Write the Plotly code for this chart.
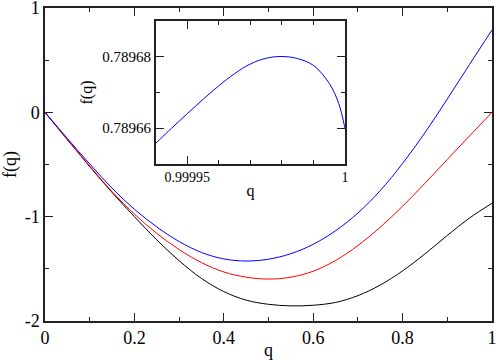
import plotly.graph_objects as go

# main panel: f(q) for three curves
q = [0, 0.05, 0.1, 0.15, 0.2, 0.25, 0.3, 0.35, 0.4, 0.45, 0.5,
     0.55, 0.6, 0.65, 0.7, 0.75, 0.8, 0.85, 0.9, 0.95, 1.0]
f_black = [0, -0.262, -0.52, -0.768, -1.0, -1.222, -1.422, -1.592, -1.718, -1.8, -1.84,
           -1.855, -1.849, -1.822, -1.757, -1.655, -1.52, -1.357, -1.18, -1.012, -0.872]
f_red = [0, -0.26, -0.515, -0.76, -0.975, -1.16, -1.315, -1.44, -1.53, -1.58, -1.598,
         -1.58, -1.523, -1.42, -1.277, -1.101, -0.9, -0.68, -0.452, -0.225, 0.0]
f_blue = [0, -0.25, -0.495, -0.727, -0.929, -1.098, -1.238, -1.343, -1.405, -1.425, -1.4075,
          -1.355, -1.265, -1.135, -0.965, -0.75, -0.49, -0.195, 0.1275, 0.46, 0.78966]

# inset: blue curve close to q = 1
q_in = [0.99994, 0.999945, 0.99995, 0.999955, 0.99996, 0.999965, 0.99997,
        0.999975, 0.99998, 0.999985, 0.99999, 0.999995, 0.999998, 1.0]
f_in = [0.7896558, 0.7896600, 0.7896641, 0.7896681, 0.7896719, 0.7896753, 0.7896780,
        0.7896796, 0.7896801, 0.7896795, 0.7896776, 0.7896726, 0.7896670, 0.7896600]

main_xticks = [0, 0.2, 0.4, 0.6, 0.8, 1]
main_xlabels = ["0", "0.2", "0.4", "0.6", "0.8", "1"]
main_yticks = [-2, -1, 0, 1]
main_ylabels = ["-2", "-1", "0", "1"]
in_xticks = [0.99995, 1.0]
in_xlabels = ["0.99995", "1"]
in_yticks = [0.78966, 0.78968]
in_ylabels = ["0.78966", "0.78968"]

FONT = "Liberation Serif"
AX = "#222222"

fig = go.Figure()
for y, c in [(f_black, "black"), (f_red, "#ff0000"), (f_blue, "#0000ff")]:
    fig.add_trace(go.Scatter(x=q, y=y, mode="lines",
                             line=dict(color=c, width=1, shape="spline", simplify=False),
                             showlegend=False, xaxis="x", yaxis="y"))
fig.add_trace(go.Scatter(x=q_in, y=f_in, mode="lines",
                         line=dict(color="#0000ff", width=1, shape="spline", simplify=False),
                         showlegend=False, xaxis="x2", yaxis="y2"))

common = dict(showline=True, linecolor=AX, linewidth=1.5, mirror="ticks", ticks="inside",
              tickcolor=AX, showgrid=False, zeroline=False, automargin=False,
              ticklabeloverflow="allow")

fig.update_layout(
    width=498, height=360,
    margin=dict(l=45, r=6, t=8, b=39),
    paper_bgcolor="white", plot_bgcolor="white",
    font=dict(family=FONT, color="black"),
    xaxis=dict(common, range=[0, 1], domain=[0, 1], tickvals=main_xticks, ticktext=main_xlabels,
               ticklen=8, tickfont=dict(size=18),
               minor=dict(dtick=0.1, ticks="inside", ticklen=4, tickcolor=AX),
               title=dict(text="q", font=dict(size=18), standoff=0)),
    yaxis=dict(common, range=[-2, 1], domain=[0, 1], tickvals=main_yticks, ticktext=main_ylabels,
               ticklen=8, tickfont=dict(size=18),
               minor=dict(dtick=0.5, ticks="inside", ticklen=4, tickcolor=AX),
               title=dict(text="f(q)", font=dict(size=18), standoff=6)),
    xaxis2=dict(common, range=[0.99994, 1.0], domain=[0.248, 0.671], anchor="y2",
                tickvals=in_xticks, ticktext=in_xlabels, ticklen=8, tickfont=dict(size=14),
                minor=dict(tickvals=[0.99996, 0.99997, 0.99998, 0.99999], ticks="inside",
                           ticklen=4, tickcolor=AX),
                title=dict(text="q", font=dict(size=16), standoff=0)),
    yaxis2=dict(common, range=[0.78965, 0.78969], domain=[0.502, 0.958], anchor="x2",
                tickvals=in_yticks, ticktext=in_ylabels, ticklen=8, tickfont=dict(size=15),
                minor=dict(tickvals=[0.78965, 0.78967, 0.78969], ticks="inside",
                           ticklen=4, tickcolor=AX),
                title=dict(text="f(q)", font=dict(size=16), standoff=6)),
)

# the page body has a default 8px margin; drop it so the figure sits at the window corner
fig.write_html("out.html", config={"displayModeBar": False},
               post_script="document.body.style.margin='0';")
